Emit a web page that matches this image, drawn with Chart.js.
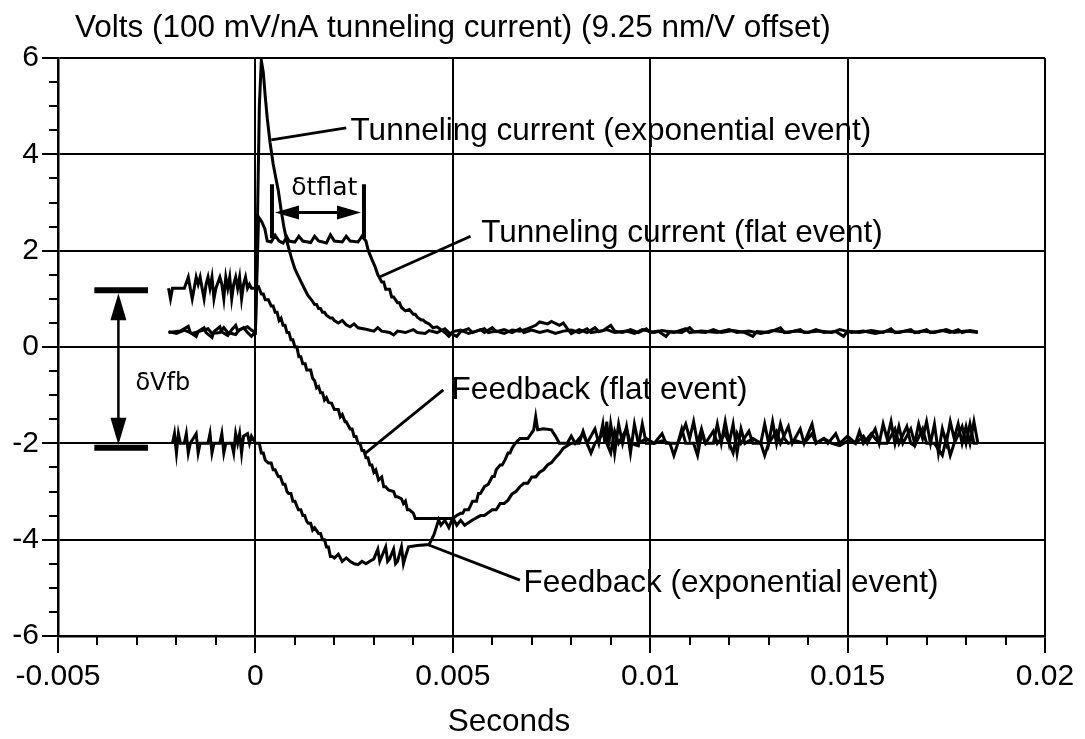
<!DOCTYPE html>
<html><head><meta charset="utf-8">
<script src="https://cdn.jsdelivr.net/npm/chart.js@4"></script>
<style>html,body{margin:0;padding:0;background:#fff;}canvas{display:block;}</style>
</head><body>
<canvas id="c" width="1085" height="739"></canvas>
<script>
// ---------------- DATA (seconds, volts) ----------------
const xTickValues = [-0.005, 0, 0.005, 0.01, 0.015, 0.02];
const xTickLabels = ['-0.005', '0', '0.005', '0.01', '0.015', '0.02'];
const yTickValues = [-6, -4, -2, 0, 2, 4, 6];
const yTickLabels = ['-6', '-4', '-2', '0', '2', '4', '6'];

const seriesNames = [
  'Tunneling current (exponential event)',
  'Tunneling current (flat event)',
  'Feedback (flat event)',
  'Feedback (exponential event)'
];

const tunnelExp = [
  [-0.0022,0.30],[-0.0019,0.33],[-0.0017,0.43],[-0.00165,0.30],[-0.0015,0.22],[-0.00145,0.32],
  [-0.0013,0.40],[-0.00125,0.30],[-0.0011,0.20],[-0.00105,0.32],[-0.0009,0.42],[-0.00085,0.31],
  [-0.0007,0.24],[-0.0006,0.36],[-0.0005,0.45],[-0.00045,0.33],[-0.0003,0.40],[-0.0002,0.30],
  [-0.0001,0.22],[0.0,0.32],
  [0.00005,2.5],[0.0001,5.0],[0.00015,5.95],[0.0002,5.7],[0.00025,5.2],[0.0003,4.75],[0.00037,4.25],
  [0.00045,3.8],[0.00052,3.5],[0.00058,3.25],[0.00065,2.85],[0.00072,2.5],[0.00079,2.22],[0.00086,2.0],
  [0.00093,1.8],[0.001,1.62],[0.00108,1.48],[0.00117,1.33],[0.00125,1.2],[0.00133,1.07],[0.00142,0.98],
  [0.0015,0.88],[0.00155,0.88],[0.0016,0.8],[0.00165,0.8],[0.0017,0.72],[0.00175,0.72],[0.0018,0.66],
  [0.0019,0.6],[0.00195,0.6],[0.002,0.55],[0.0021,0.50],
  [0.0022,0.55],[0.0023,0.46],[0.0024,0.42],[0.0025,0.48],[0.0026,0.40],[0.0028,0.37],[0.0030,0.33],
  [0.0031,0.40],[0.0032,0.33],[0.0034,0.30],[0.0035,0.25],[0.0036,0.33],[0.0038,0.30],[0.0040,0.36],
  [0.0041,0.30],[0.0043,0.28],[0.0044,0.34],[0.0046,0.30],[0.0048,0.38],[0.0049,0.30],[0.0051,0.22],
  [0.0052,0.32],[0.0054,0.38],[0.0055,0.30],[0.0057,0.36],[0.0058,0.30],[0.0060,0.40],[0.0061,0.32],
  [0.0063,0.36],[0.0065,0.30],[0.0067,0.38],[0.0068,0.30],[0.0070,0.35],[0.0072,0.30],[0.0074,0.34],
  [0.0076,0.28],[0.0078,0.33],[0.0080,0.35],[0.0082,0.30],[0.0084,0.38],[0.0085,0.30],[0.0088,0.34],
  [0.0090,0.45],[0.0091,0.33],[0.0093,0.30],[0.0095,0.36],[0.0097,0.30],[0.0099,0.38],[0.0100,0.30],
  [0.0102,0.33],[0.0104,0.22],[0.0105,0.32],[0.0108,0.30],[0.0110,0.40],[0.0111,0.32],[0.0114,0.30],
  [0.0116,0.36],[0.0118,0.30],[0.0121,0.34],[0.0124,0.30],[0.0126,0.22],[0.0127,0.32],[0.0130,0.30],
  [0.0133,0.40],[0.0134,0.30],[0.0137,0.33],[0.0140,0.30],[0.0142,0.36],[0.0144,0.30],[0.0147,0.32],
  [0.0149,0.22],[0.0150,0.33],[0.0153,0.30],[0.0156,0.34],[0.0159,0.30],[0.0161,0.38],[0.0162,0.30],
  [0.0165,0.33],[0.0168,0.30],[0.0170,0.36],[0.0171,0.30],[0.0174,0.34],[0.0176,0.30],[0.0178,0.36],
  [0.0179,0.30],[0.0181,0.34],[0.0183,0.31]
];

const tunnelFlat = [
  [-0.0022,0.32],[-0.0020,0.28],[-0.0018,0.35],[-0.0016,0.28],[-0.0014,0.33],[-0.0012,0.38],
  [-0.0011,0.28],[-0.0009,0.30],[-0.0008,0.40],[-0.0007,0.30],[-0.0005,0.26],[-0.0004,0.36],
  [-0.0002,0.42],[-0.0001,0.35],[0.0,0.30],
  [0.00004,1.5],[0.00008,2.7],[0.00016,2.6],[0.00024,2.45],[0.0003,2.2],
  [0.0004,2.18],[0.0005,2.32],[0.0006,2.2],[0.0007,2.16],[0.0008,2.28],[0.00085,2.2],[0.001,2.18],
  [0.0011,2.3],[0.0012,2.2],[0.0014,2.17],[0.0015,2.3],[0.0016,2.2],[0.0018,2.16],[0.0019,2.33],
  [0.002,2.2],[0.0022,2.18],[0.0023,2.3],[0.0024,2.2],[0.0026,2.18],[0.0027,2.3],[0.0028,2.2],
  [0.00286,2.0],[0.00295,1.82],[0.00303,1.67],[0.0031,1.5],[0.0032,1.35],[0.00325,1.35],[0.0033,1.2],
  [0.0034,1.2],[0.00345,1.04],[0.0035,1.04],[0.0036,0.92],[0.00365,0.92],[0.0037,0.82],[0.0038,0.75],
  [0.0039,0.78],[0.004,0.68],[0.00405,0.68],[0.0041,0.62],[0.0042,0.56],[0.00425,0.56],
  [0.0043,0.52],[0.0044,0.48],[0.0045,0.40],[0.0046,0.42],[0.0047,0.36],[0.0048,0.30],[0.0049,0.22],
  [0.005,0.32],[0.0052,0.35],[0.0054,0.28],[0.0056,0.33],[0.0058,0.38],[0.0059,0.30],[0.0061,0.33],
  [0.0063,0.28],[0.0065,0.35],[0.0067,0.33],[0.0069,0.38],[0.0071,0.45],[0.0072,0.52],[0.0074,0.48],
  [0.0075,0.53],[0.0077,0.45],[0.0078,0.50],[0.0079,0.38],[0.0080,0.28],[0.0082,0.36],[0.0084,0.30],
  [0.0086,0.40],[0.0087,0.32],[0.0089,0.36],[0.0091,0.30],[0.0094,0.33],[0.0096,0.28],[0.0098,0.36],
  [0.0101,0.30],[0.0103,0.34],[0.0106,0.30],[0.0109,0.38],[0.0110,0.30],[0.0113,0.33],[0.0117,0.30],
  [0.0120,0.36],[0.0122,0.30],[0.0125,0.33],[0.0128,0.28],[0.0131,0.34],[0.0135,0.30],[0.0138,0.36],
  [0.0139,0.30],[0.0143,0.33],[0.0146,0.30],[0.0148,0.36],[0.0151,0.30],[0.0154,0.33],[0.0157,0.28],
  [0.0160,0.33],[0.0163,0.30],[0.0166,0.36],[0.0167,0.30],[0.0169,0.33],[0.0172,0.30],[0.0175,0.36],
  [0.0177,0.30],[0.0180,0.33],[0.0183,0.30]
];

const feedbackFlat = [
  [-0.0022,1.22],[-0.00215,1.0],[-0.0021,1.22],[-0.0020,1.22],[-0.0018,1.22],[-0.0017,1.45],
  [-0.00165,1.22],[-0.0016,1.0],[-0.00155,1.22],[-0.0015,1.45],[-0.00145,1.3],[-0.0014,1.45],
  [-0.00135,1.22],[-0.0013,1.0],[-0.00125,1.3],[-0.0012,1.45],[-0.00115,1.22],[-0.0011,1.45],
  [-0.00105,1.0],[-0.001,1.22],[-0.0009,1.45],[-0.00085,1.3],[-0.0008,1.0],[-0.00075,1.45],
  [-0.0007,1.22],[-0.00065,1.45],[-0.0006,1.0],[-0.00055,1.3],[-0.0005,1.45],[-0.00045,1.22],
  [-0.0004,1.45],[-0.00035,1.0],[-0.0003,1.3],[-0.00025,1.45],[-0.0002,1.22],[-0.00015,1.3],
  [-0.0001,1.22],[0.0,1.22],
  [0.00008,1.25],[0.00015,1.1],[0.0002,1.1],[0.00025,0.98],[0.00033,0.98],[0.0004,0.85],[0.00045,0.85],
  [0.0005,0.72],[0.00055,0.72],[0.0006,0.55],[0.00065,0.6],[0.0007,0.45],[0.00075,0.45],[0.0008,0.3],
  [0.00085,0.3],[0.0009,0.15],[0.00095,0.15],[0.001,0.0],[0.00105,0.0],[0.0011,-0.2],[0.00115,-0.2],
  [0.0012,-0.35],[0.00126,-0.35],[0.0013,-0.48],[0.0014,-0.48],[0.00145,-0.65],[0.0015,-0.7],
  [0.00155,-0.85],[0.0016,-0.82],[0.00165,-0.95],[0.0017,-0.95],[0.00175,-1.1],[0.0018,-1.05],
  [0.00185,-1.15],[0.00193,-1.17],[0.002,-1.3],[0.0021,-1.3],[0.00215,-1.45],[0.0022,-1.4],
  [0.00227,-1.55],[0.0023,-1.55],[0.0024,-1.7],[0.00245,-1.7],[0.0025,-1.86],[0.00255,-1.86],
  [0.0026,-2.0],[0.00265,-2.0],[0.0027,-2.15],[0.00275,-2.15],[0.0028,-2.3],[0.00285,-2.3],
  [0.0029,-2.45],[0.00295,-2.45],[0.003,-2.6],[0.00305,-2.55],[0.00312,-2.76],[0.0032,-2.7],
  [0.00325,-2.9],[0.0033,-2.9],[0.00337,-2.97],[0.0035,-3.0],[0.00355,-3.11],[0.0036,-3.11],
  [0.0037,-3.15],[0.00375,-3.25],[0.0038,-3.2],[0.00385,-3.38],[0.0039,-3.38],[0.004,-3.45],[0.00405,-3.56],
  [0.0042,-3.56],[0.0044,-3.56],[0.0046,-3.56],[0.0048,-3.56],[0.005,-3.56],
  [0.0051,-3.5],[0.0052,-3.45],[0.00525,-3.45],[0.0053,-3.38],[0.0054,-3.38],[0.0055,-3.2],[0.0056,-3.2],
  [0.00565,-3.04],[0.0057,-3.04],[0.0058,-2.9],[0.0059,-2.85],[0.006,-2.69],[0.00605,-2.69],[0.0061,-2.55],
  [0.0062,-2.45],[0.00625,-2.45],[0.00632,-2.35],[0.0064,-2.2],[0.00645,-2.2],[0.0065,-2.1],[0.00658,-2.0],
  [0.0067,-1.9],[0.0069,-1.9],[0.00705,-1.72],[0.0071,-1.45],[0.00715,-1.72],[0.0073,-1.7],[0.0075,-1.72],
  [0.0076,-1.85],[0.0077,-2.0],
  [0.0079,-2.0],[0.0080,-1.85],[0.0081,-2.0],[0.0083,-1.8],[0.0084,-2.0],[0.0086,-1.7],[0.0087,-2.0],
  [0.0088,-1.6],[0.00885,-2.0],[0.0089,-1.55],[0.00895,-2.05],[0.0090,-1.6],[0.00905,-1.85],[0.0091,-2.2],
  [0.0092,-1.6],[0.0093,-2.0],[0.0094,-1.65],[0.0095,-2.2],[0.0096,-1.6],[0.0097,-2.0],[0.0099,-1.9],
  [0.0101,-2.0],[0.0103,-1.95],[0.0105,-2.0],[0.0106,-2.25],[0.0107,-2.0],[0.0109,-1.6],[0.0110,-1.9],
  [0.0111,-1.55],[0.0112,-2.0],[0.0113,-1.7],[0.0114,-2.0],[0.0116,-2.0],[0.0117,-1.6],[0.0118,-2.0],
  [0.0119,-1.55],[0.012,-2.0],[0.0121,-1.6],[0.0122,-2.2],[0.0123,-1.7],[0.0124,-2.0],[0.0126,-1.9],
  [0.0128,-2.0],[0.0129,-1.6],[0.0130,-2.0],[0.0131,-1.55],[0.0132,-2.0],[0.0133,-1.6],[0.0134,-1.9],
  [0.0135,-2.0],[0.0137,-1.95],[0.0139,-2.0],[0.0141,-1.8],[0.0142,-2.0],[0.0144,-1.9],[0.0146,-2.0],
  [0.0148,-2.05],[0.015,-1.95],[0.0152,-2.0],[0.0154,-1.85],[0.0155,-2.0],[0.0157,-1.7],[0.0158,-2.0],
  [0.0159,-1.6],[0.016,-1.9],[0.0161,-1.55],[0.0162,-2.0],[0.0163,-1.65],[0.0164,-2.0],[0.0166,-1.7],
  [0.0167,-2.0],[0.0168,-1.6],[0.0169,-1.9],[0.017,-1.55],[0.0171,-2.0],[0.0172,-1.6],[0.0173,-2.2],
  [0.0174,-1.7],[0.0175,-2.0],[0.0176,-1.55],[0.0177,-1.9],[0.0178,-1.6],[0.0179,-2.0],[0.018,-1.65],
  [0.0181,-2.0],[0.0182,-1.55],[0.0183,-2.0]
];

const feedbackExp = [
  [-0.0021,-2.0],[-0.00205,-1.8],[-0.002,-2.2],[-0.00195,-1.8],[-0.0019,-2.0],[-0.0018,-2.0],
  [-0.00175,-1.8],[-0.0017,-2.2],[-0.00165,-2.0],[-0.0015,-1.8],[-0.00145,-2.2],[-0.0014,-2.0],
  [-0.0012,-2.0],[-0.00115,-1.8],[-0.0011,-2.2],[-0.00105,-2.0],[-0.0009,-2.0],[-0.00085,-1.8],
  [-0.0008,-2.2],[-0.00075,-2.0],[-0.0006,-2.0],[-0.00055,-2.2],[-0.0005,-1.8],[-0.00045,-2.0],
  [-0.0004,-1.8],[-0.00035,-2.2],[-0.0003,-1.85],[-0.0002,-1.8],[-0.00015,-2.0],[-0.0001,-1.85],[0.0,-2.0],
  [0.0001,-2.0],[0.00015,-2.2],[0.0002,-2.2],[0.00025,-2.35],[0.00033,-2.41],[0.0004,-2.41],[0.00045,-2.55],
  [0.0005,-2.55],[0.00058,-2.69],[0.00063,-2.69],[0.0007,-2.85],[0.00075,-2.85],[0.0008,-3.0],[0.00084,-3.04],
  [0.0009,-3.04],[0.00095,-3.2],[0.001,-3.2],[0.00105,-3.3],[0.00109,-3.38],[0.00115,-3.38],[0.0012,-3.5],
  [0.00125,-3.5],[0.0013,-3.62],[0.00134,-3.66],[0.0014,-3.66],[0.00145,-3.8],[0.0015,-3.75],[0.0016,-3.87],
  [0.00165,-3.87],[0.0017,-4.0],[0.00175,-4.0],[0.0018,-4.15],[0.00185,-4.15],[0.0019,-4.35],[0.00195,-4.35],
  [0.002,-4.38],[0.0021,-4.3],[0.0022,-4.45],[0.0023,-4.38],[0.0024,-4.45],[0.0025,-4.5],[0.0026,-4.52],
  [0.0027,-4.45],[0.0028,-4.5],[0.0029,-4.45],[0.003,-4.4],[0.0031,-4.2],[0.00315,-4.45],[0.0032,-4.35],
  [0.0033,-4.15],[0.00335,-4.45],[0.0034,-4.4],[0.0035,-4.2],[0.00355,-4.5],[0.0036,-4.45],[0.0037,-4.15],
  [0.00375,-4.5],[0.0038,-4.35],[0.00388,-4.15],[0.0041,-4.12],[0.0044,-4.1],
  [0.00452,-3.9],[0.00458,-3.75],[0.00464,-3.59],[0.0047,-3.7],[0.0048,-3.6],[0.0049,-3.75],[0.005,-3.55],
  [0.0051,-3.7],[0.0052,-3.6],[0.0053,-3.7],[0.0055,-3.59],[0.0057,-3.5],[0.0058,-3.5],[0.006,-3.38],
  [0.0061,-3.38],[0.0062,-3.25],[0.0063,-3.25],[0.0064,-3.18],[0.0065,-3.05],[0.0066,-3.0],[0.0067,-2.9],
  [0.0068,-2.83],[0.0069,-2.83],[0.0070,-2.7],[0.0071,-2.7],[0.0072,-2.6],[0.0073,-2.55],[0.0074,-2.45],
  [0.0075,-2.4],[0.0076,-2.3],[0.0077,-2.21],[0.0078,-2.1],[0.0079,-2.05],[0.008,-2.0],
  [0.0082,-2.0],[0.0083,-1.75],[0.0084,-2.0],[0.0085,-2.2],[0.0086,-2.0],[0.0088,-1.8],[0.0089,-2.0],
  [0.009,-2.2],[0.0091,-1.75],[0.0092,-2.0],[0.0094,-1.7],[0.0095,-2.0],[0.0097,-2.05],[0.0098,-1.6],
  [0.0099,-2.0],[0.0101,-2.0],[0.0103,-1.8],[0.0104,-2.0],[0.0107,-2.0],[0.0108,-1.7],[0.0109,-2.0],
  [0.0111,-2.0],[0.0112,-2.25],[0.0113,-1.8],[0.0114,-2.0],[0.0116,-1.75],[0.0117,-2.0],[0.0119,-1.8],
  [0.012,-2.0],[0.0121,-2.2],[0.0122,-1.8],[0.0123,-2.0],[0.0125,-1.75],[0.0126,-2.0],[0.0128,-2.0],
  [0.0129,-2.25],[0.013,-2.0],[0.0132,-1.75],[0.0133,-2.0],[0.0135,-1.65],[0.0136,-2.0],[0.0138,-1.7],
  [0.0139,-2.0],[0.0141,-1.6],[0.0142,-2.0],[0.0144,-1.9],[0.0145,-2.0],[0.0147,-1.8],[0.0148,-2.0],
  [0.015,-1.85],[0.0152,-2.0],[0.0153,-1.75],[0.0154,-2.0],[0.0156,-1.8],[0.0158,-2.0],[0.016,-2.0],
  [0.0162,-1.7],[0.0163,-2.0],[0.0165,-1.65],[0.0166,-2.0],[0.0167,-2.05],[0.0169,-1.7],[0.017,-2.0],
  [0.0172,-2.0],[0.0174,-2.25],[0.0175,-1.9],[0.0176,-2.25],[0.0177,-2.0],[0.0179,-1.65],[0.018,-2.0],
  [0.0181,-1.6],[0.0182,-2.0],[0.0183,-2.0]
];

// ---------------- TEXT ----------------
const titleText = 'Volts (100 mV/nA tunneling current) (9.25 nm/V offset)';
const xTitleText = 'Seconds';

// ---------------- ANNOTATION LAYOUT (data coordinates) ----------------
const FONT = '"Liberation Sans", Arial, Helvetica, sans-serif';
const SYMFONT = '"DejaVu Sans", Verdana, sans-serif';
const labelNotes = [
  { text: seriesNames[0], at: [0.00241, 4.30], from: [0.000405, 4.30], to: [0.0023, 4.55] },
  { text: seriesNames[1], at: [0.00572, 2.18], from: [0.00316, 1.46], to: [0.00545, 2.30] },
  { text: seriesNames[2], at: [0.00497, -1.08], from: [0.00278, -2.21], to: [0.00476, -0.89] },
  { text: seriesNames[3], at: [0.00679, -5.09], from: [0.00439, -4.11], to: [0.0067, -4.84] }
];
const dtFlat = { text: 'δtflat', at: [0.00091, 3.16], bars: [0.00042, 0.00275], barY: [2.26, 3.38], arrowY: 2.79 };
const dVfb = { text: 'δVfb', at: [-0.00304, -0.89], x: -0.00347, top: 1.18, bottom: -2.09, barsX: [-0.00408, -0.00272] };

function arrowHead(ctx, tx, ty, dx, dy, len, halfW) {
  const n = Math.hypot(dx, dy); dx /= n; dy /= n;
  const bx = tx - dx * len, by = ty - dy * len;
  ctx.beginPath();
  ctx.moveTo(tx, ty);
  ctx.lineTo(bx - dy * halfW, by + dx * halfW);
  ctx.lineTo(bx + dy * halfW, by - dx * halfW);
  ctx.closePath();
  ctx.fill();
}

const decorPlugin = {
  id: 'decor',
  afterDraw(chart) {
    const { ctx, chartArea: a, scales } = chart;
    const xs = scales.x, ys = scales.y;
    const X = v => xs.getPixelForValue(v), Y = v => ys.getPixelForValue(v);
    ctx.save();
    ctx.strokeStyle = '#000'; ctx.fillStyle = '#000';
    // minor ticks
    ctx.lineWidth = 2;
    ctx.beginPath();
    for (let i = 1; i < 25; i++) {
      if (i % 5 === 0) continue;
      const px = Math.round(X(-0.005 + i * 0.001));
      ctx.moveTo(px, a.bottom); ctx.lineTo(px, a.bottom + 9);
    }
    for (let i = 1; i < 24; i++) {
      if (i % 4 === 0) continue;
      const py = Math.round(Y(-6 + i * 0.5));
      ctx.moveTo(a.left, py); ctx.lineTo(a.left - 9, py);
    }
    ctx.stroke();

    // title and x-axis title
    ctx.font = '31.5px ' + FONT;
    ctx.textBaseline = 'alphabetic';
    ctx.textAlign = 'left';
    ctx.fillText(titleText, a.left + 17, a.top - 21);
    ctx.textAlign = 'center';
    ctx.fillText(xTitleText, a.left + 451, a.bottom + 95);

    // labels with pointer lines
    ctx.textAlign = 'left';
    ctx.lineWidth = 2.8;
    for (const n of labelNotes) {
      ctx.beginPath();
      ctx.moveTo(X(n.from[0]), Y(n.from[1]));
      ctx.lineTo(X(n.to[0]), Y(n.to[1]));
      ctx.stroke();
      ctx.fillText(n.text, X(n.at[0]), Y(n.at[1]));
    }

    // delta t flat marker
    ctx.lineWidth = 4;
    ctx.beginPath();
    for (const bx of dtFlat.bars) {
      ctx.moveTo(X(bx), Y(dtFlat.barY[0])); ctx.lineTo(X(bx), Y(dtFlat.barY[1]));
    }
    ctx.stroke();
    const ay = Y(dtFlat.arrowY);
    const ax0 = X(dtFlat.bars[0]) + 3, ax1 = X(dtFlat.bars[1]) - 3;
    ctx.lineWidth = 3;
    ctx.beginPath(); ctx.moveTo(ax0 + 20, ay); ctx.lineTo(ax1 - 20, ay); ctx.stroke();
    arrowHead(ctx, ax0, ay, -1, 0, 24, 7);
    arrowHead(ctx, ax1, ay, 1, 0, 24, 7);
    ctx.font = '25px ' + SYMFONT;
    ctx.fillText(dtFlat.text, X(dtFlat.at[0]), Y(dtFlat.at[1]));

    // delta V fb marker
    ctx.lineWidth = 6;
    ctx.beginPath();
    ctx.moveTo(X(dVfb.barsX[0]), Y(dVfb.top)); ctx.lineTo(X(dVfb.barsX[1]), Y(dVfb.top));
    ctx.moveTo(X(dVfb.barsX[0]), Y(dVfb.bottom)); ctx.lineTo(X(dVfb.barsX[1]), Y(dVfb.bottom));
    ctx.stroke();
    const vx = X(dVfb.x), vTop = Y(dVfb.top) + 3, vBot = Y(dVfb.bottom) - 3;
    ctx.lineWidth = 2.5;
    ctx.beginPath(); ctx.moveTo(vx, vTop + 20); ctx.lineTo(vx, vBot - 20); ctx.stroke();
    arrowHead(ctx, vx, vTop, 0, -1, 27, 8);
    arrowHead(ctx, vx, vBot, 0, 1, 27, 8);
    ctx.font = '24px ' + SYMFONT;
    ctx.fillText(dVfb.text, X(dVfb.at[0]), Y(dVfb.at[1]));
    ctx.restore();
  }
};

const toPts = arr => arr.map(([x, y]) => ({ x, y }));
const lineStyle = { borderColor: '#000', borderWidth: 3, pointRadius: 0, stepped: false, fill: false, tension: 0, borderJoinStyle: 'miter' };

new Chart(document.getElementById('c'), {
  type: 'line',
  data: {
    datasets: [
      { label: seriesNames[0], data: toPts(tunnelExp), ...lineStyle },
      { label: seriesNames[1], data: toPts(tunnelFlat), ...lineStyle },
      { label: seriesNames[2], data: toPts(feedbackFlat), ...lineStyle },
      { label: seriesNames[3], data: toPts(feedbackExp), ...lineStyle }
    ]
  },
  options: {
    responsive: false,
    animation: false,
    devicePixelRatio: 1,
    layout: { padding: { top: 58, right: 40, left: 0, bottom: 0 } },
    plugins: { legend: { display: false }, tooltip: { enabled: false }, title: { display: false } },
    scales: {
      x: {
        type: 'linear', min: -0.005, max: 0.02,
        afterBuildTicks: s => { s.ticks = xTickValues.map(v => ({ value: v })); },
        afterFit: s => { s.height = 103; },
        ticks: { callback: (v, i) => xTickLabels[i], color: '#000', font: { family: FONT, size: 30 },
                 padding: 6, maxRotation: 0, autoSkip: false },
        grid: { color: '#000', lineWidth: 2, drawTicks: true, tickLength: 17, tickColor: '#000', tickWidth: 2 },
        border: { display: true, color: '#000', width: 2.5 }
      },
      y: {
        type: 'linear', min: -6, max: 6,
        afterBuildTicks: s => { s.ticks = yTickValues.map(v => ({ value: v })); },
        afterFit: s => { s.width = 58; },
        ticks: { callback: (v, i) => yTickLabels[i], color: '#000', font: { family: FONT, size: 30 },
                 padding: 3, autoSkip: false },
        grid: { color: '#000', lineWidth: 2, drawTicks: true, tickLength: 16, tickColor: '#000', tickWidth: 2 },
        border: { display: true, color: '#000', width: 2.5 }
      }
    }
  },
  plugins: [decorPlugin]
});
</script>
</body></html>
